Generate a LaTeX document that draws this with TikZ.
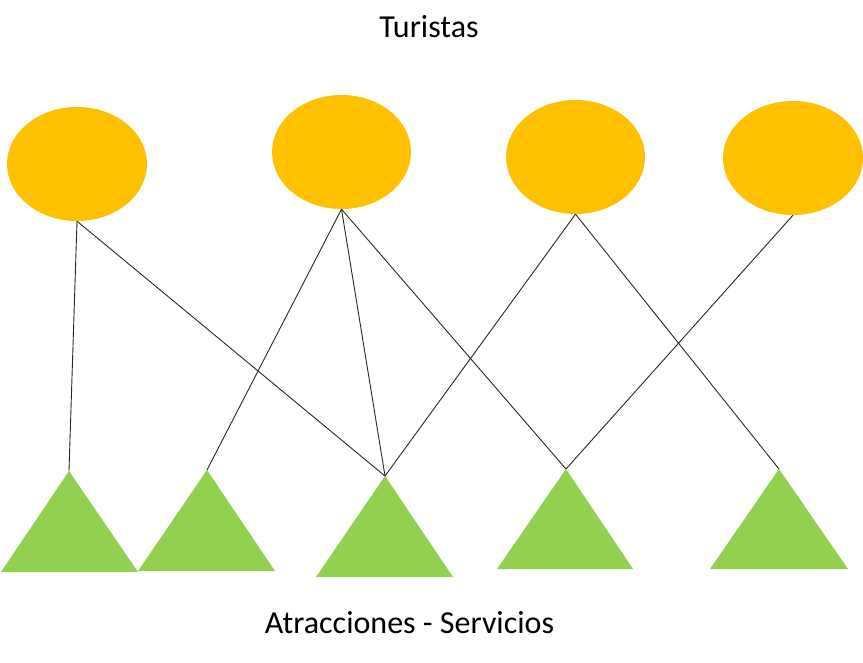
\documentclass[tikz,border=0pt]{standalone}
\usepackage{fontspec}
\setmainfont{Carlito}
\usetikzlibrary{shapes.geometric}
\definecolor{tourist}{HTML}{FFC000}
\definecolor{attr}{HTML}{92D050}
\tikzset{
  tourist/.style={ellipse, fill=tourist, draw=none, inner sep=0pt, minimum width=140pt, minimum height=114pt},
  attrfill/.style={fill=attr, draw=none},
  link/.style={draw=black!85, line width=0.9pt},
  caption/.style={anchor=base, inner sep=0pt, font=\fontsize{32}{38}\selectfont}
}
\begin{document}
\begin{tikzpicture}[x=1pt, y=-1pt]
\useasboundingbox (0,0) rectangle (863,663);
% tourists
\node[tourist] (e1) at (77,164) {};
\node[tourist, minimum width=139pt] (e2) at (341.5,152) {};
\node[tourist, minimum width=139pt] (e3) at (575.5,157) {};
\node[tourist] (e4) at (793,158) {};
% attractions
\coordinate (t1) at (69,471);
\coordinate (t2) at (207,470);
\coordinate (t3) at (385,476);
\coordinate (t4) at (566,469);
\coordinate (t5) at (779,469);
\fill[attrfill] (t1) -- (138,572) -- (1,572) -- cycle;
\fill[attrfill] (t2) -- (275,571) -- (138,571) -- cycle;
\fill[attrfill] (t3) -- (453,577) -- (316,577) -- cycle;
\fill[attrfill] (t4) -- (633,569) -- (497,569) -- cycle;
\fill[attrfill] (t5) -- (848,569) -- (710,569) -- cycle;
% links
\draw[link] (e1.south) -- (t1);
\draw[link] (e1.south) -- (t3);
\draw[link] (e2.south) -- (t2);
\draw[link] (e2.south) -- (t3);
\draw[link] (e2.south) -- (t4);
\draw[link] (e3.south) -- (t3);
\draw[link] (e3.south) -- (t5);
\draw[link] (e4.south) -- (t4);
% captions
\node[caption] (lt) at (429,38) {Turistas};
\node[caption] (la) at (409.5,633) {Atracciones - Servicios};
\end{tikzpicture}
\end{document}
